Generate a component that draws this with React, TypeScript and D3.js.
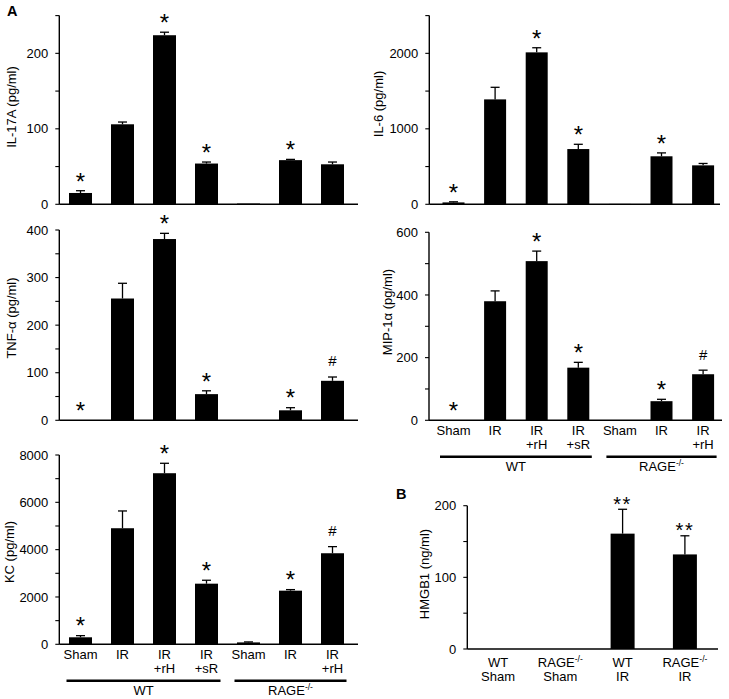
import React from 'react';
import * as d3 from 'd3';

const FONT = '"Liberation Sans", Arial, Helvetica, sans-serif';

// ---------- data ----------
const catLine1 = ['Sham', 'IR', 'IR', 'IR', 'Sham', 'IR', 'IR'];
const catLine2 = ['', '', '+rH', '+sR', '', '', '+rH'];
const groupNames = ['WT', 'RAGE-/-'];
const groupFirst = [0, 4];
const groupLast = [3, 6];

const il17Mean = [15, 106, 224, 54, 1, 58.5, 53];
const il17Se = [3, 3, 4, 2, 0, 1, 3];
const il17Sig = ['*', '', '*', '*', '', '*', ''];

const il6Mean = [25, 1390, 2013, 732, 5, 636, 516];
const il6Se = [8, 160, 61, 63, 0, 45, 25];
const il6Sig = ['*', '', '*', '*', '', '*', ''];

const tnfMean = [0, 256, 381, 55, 0, 21, 83];
const tnfSe = [0, 32, 12, 7, 0, 5.5, 8];
const tnfSig = ['*', '', '*', '*', '', '*', '#'];

const mipMean = [0, 380, 508, 168, 0, 61, 147];
const mipSe = [0, 33, 32, 17, 0, 6, 13];
const mipSig = ['*', '', '*', '*', '', '*', '#'];

const kcMean = [296, 4905, 7230, 2562, 80, 2266, 3848];
const kcSe = [70, 730, 420, 145, 20, 45, 280];
const kcSig = ['*', '', '*', '*', '', '*', '#'];

const hmgLine1 = ['WT', 'RAGE-/-', 'WT', 'RAGE-/-'];
const hmgLine2 = ['Sham', 'Sham', 'IR', 'IR'];
const hmgMean = [0, 0, 161, 132];
const hmgSe = [0, 0, 34, 26];
const hmgSig = ['', '', '**', '**'];

// ---------- helpers ----------
function SupText(props: any) {
  const { text, ...rest } = props;
  if (text.endsWith('-/-')) {
    const base = text.slice(0, -3);
    return (
      <text {...rest}>
        {base}
        <tspan fontSize={8.5} dy={-5}>-/-</tspan>
      </text>
    );
  }
  return <text {...rest}>{text}</text>;
}

type PanelProps = {
  axisX: number; axisEnd: number; y0: number; yTop: number; max: number;
  major: number; minor: number; bandStart: number; step: number; barW: number;
  means: number[]; ses: number[]; sig: string[];
  yLabel: string; labelX: number; labelY: number;
  line1?: string[]; line2?: string[]; row1?: number; row2?: number;
  groups?: boolean; starSize?: number; starGap?: number; starSpacing?: number;
};

function Panel(p: PanelProps) {
  const y = d3.scaleLinear().domain([0, p.max]).range([p.y0, p.yTop]);
  const n = p.means.length;
  const pad = 1 - p.barW / p.step;
  const x = d3.scaleBand<number>()
    .domain(d3.range(n))
    .range([p.bandStart, p.bandStart + n * p.step])
    .paddingInner(pad)
    .paddingOuter(pad / 2);
  const ticks = d3.range(0, p.max + 1e-9, p.minor);
  const isMajor = (t: number) => Math.abs(t / p.major - Math.round(t / p.major)) < 1e-6;
  const fmt = d3.format('d');
  const starSize = p.starSize ?? 24;
  const starGap = p.starGap ?? 15;
  return (
    <g>
      {/* bars */}
      {p.means.map((m, i) => {
        const bx = x(i)!;
        const top = y(m);
        const errTop = y(m + p.ses[i]);
        const cx = bx + x.bandwidth() / 2;
        return (
          <g key={i}>
            {m > 0 && (
              <rect x={bx} y={top} width={x.bandwidth()} height={Math.max(0.8, p.y0 - top)} fill="#000" />
            )}
            {p.ses[i] > 0 && (
              <g stroke="#000" strokeWidth={1.3}>
                <line x1={cx} x2={cx} y1={top} y2={errTop} />
                <line x1={cx - 4.5} x2={cx + 4.5} y1={errTop} y2={errTop} />
              </g>
            )}
            {p.sig[i] === '#' && (
              <text x={cx} y={errTop - 16 + 5.4} textAnchor="middle" fontSize={15} fontFamily={FONT}>#</text>
            )}
            {p.sig[i].startsWith('*') && (
              <text x={cx} y={errTop - starGap + starSize * 0.575} textAnchor="middle"
                fontSize={starSize} fontFamily={FONT} letterSpacing={p.starSpacing ?? 0}>
                {p.sig[i]}
              </text>
            )}
          </g>
        );
      })}
      {/* y axis */}
      <line x1={p.axisX} x2={p.axisX} y1={p.yTop} y2={p.y0} stroke="#000" strokeWidth={1.4} />
      {ticks.map((t) => (
        <g key={t}>
          <line x1={p.axisX - 4} x2={p.axisX} y1={y(t)} y2={y(t)} stroke="#000" strokeWidth={1.1} />
          {isMajor(t) && (
            <text x={p.axisX - 11} y={y(t) + 4.6} textAnchor="end" fontSize={13} fontFamily={FONT}>
              {fmt(t)}
            </text>
          )}
        </g>
      ))}
      {/* x axis */}
      <line x1={p.axisX} x2={p.axisEnd} y1={p.y0} y2={p.y0} stroke="#000" strokeWidth={1.5} />
      {/* y label */}
      <text transform={`translate(${p.labelX},${p.labelY}) rotate(-90)`} textAnchor="middle"
        dominantBaseline="central" fontSize={13} fontFamily={FONT}>
        {p.yLabel}
      </text>
      {/* category labels */}
      {p.line1 && p.line1.map((s, i) => {
        const cx = x(i)! + x.bandwidth() / 2;
        return (
          <g key={'c' + i}>
            <SupText text={s} x={cx} y={p.y0 + (p.row1 ?? 15)} textAnchor="middle" fontSize={13} fontFamily={FONT} />
            {p.line2 && p.line2[i] && (
              <SupText text={p.line2[i]} x={cx} y={p.y0 + (p.row2 ?? 29)} textAnchor="middle" fontSize={13} fontFamily={FONT} />
            )}
          </g>
        );
      })}
      {/* group lines */}
      {p.groups && groupNames.map((g, gi) => {
        const xa = x(groupFirst[gi])! - 2.5;
        const xb = x(groupLast[gi])! + x.bandwidth() + 2.5;
        return (
          <g key={'g' + gi}>
            <line x1={xa} x2={xb} y1={p.y0 + 36.5} y2={p.y0 + 36.5} stroke="#000" strokeWidth={2.6} />
            <SupText text={g} x={(xa + xb) / 2} y={p.y0 + 51} textAnchor="middle" fontSize={13} fontFamily={FONT} />
          </g>
        );
      })}
    </g>
  );
}

export default function App() {
  return (
    <svg width={729} height={699} style={{ position: 'absolute', left: 0, top: 0, background: '#fff' }}>
      <rect width={729} height={699} fill="#fff" />
      <text x={7} y={15.5} fontSize={14.5} fontWeight="bold" fontFamily={FONT}>A</text>
      <text x={396} y={498.5} fontSize={14.5} fontWeight="bold" fontFamily={FONT}>B</text>

      <Panel axisX={59.3} axisEnd={358} y0={204.3} yTop={15.6} max={250} major={100} minor={50}
        bandStart={59.5} step={42} barW={23}
        means={il17Mean} ses={il17Se} sig={il17Sig}
        yLabel="IL-17A (pg/ml)" labelX={11} labelY={107} />

      <Panel axisX={429.3} axisEnd={720} y0={204.3} yTop={15.6} max={2500} major={1000} minor={500}
        bandStart={432.7} step={41.6} barW={22}
        means={il6Mean} ses={il6Se} sig={il6Sig}
        yLabel="IL-6 (pg/ml)" labelX={378} labelY={104} />

      <Panel axisX={59.3} axisEnd={358} y0={420.3} yTop={230} max={400} major={100} minor={50}
        bandStart={59.5} step={42} barW={23}
        means={tnfMean} ses={tnfSe} sig={tnfSig}
        yLabel="TNF-α (pg/ml)" labelX={11} labelY={318} />

      <Panel axisX={429} axisEnd={722} y0={420.3} yTop={232.3} max={600} major={200} minor={100}
        bandStart={432.7} step={41.6} barW={22}
        means={mipMean} ses={mipSe} sig={mipSig}
        yLabel="MIP-1α (pg/ml)" labelX={387} labelY={312}
        line1={catLine1} line2={catLine2} groups />

      <Panel axisX={59.3} axisEnd={358} y0={644.3} yTop={455} max={8000} major={2000} minor={1000}
        bandStart={59.5} step={42} barW={23}
        means={kcMean} ses={kcSe} sig={kcSig}
        yLabel="KC (pg/ml)" labelX={9} labelY={552}
        line1={catLine1} line2={catLine2} groups />

      <Panel axisX={467.3} axisEnd={718} y0={649} yTop={505.7} max={200} major={100} minor={50}
        bandStart={466.85} step={62.3} barW={24}
        means={hmgMean} ses={hmgSe} sig={hmgSig}
        yLabel="HMGB1 (ng/ml)" labelX={424} labelY={574}
        line1={hmgLine1} line2={hmgLine2} row1={18} row2={32}
        starSize={20} starGap={10} starSpacing={1.5} />
    </svg>
  );
}
